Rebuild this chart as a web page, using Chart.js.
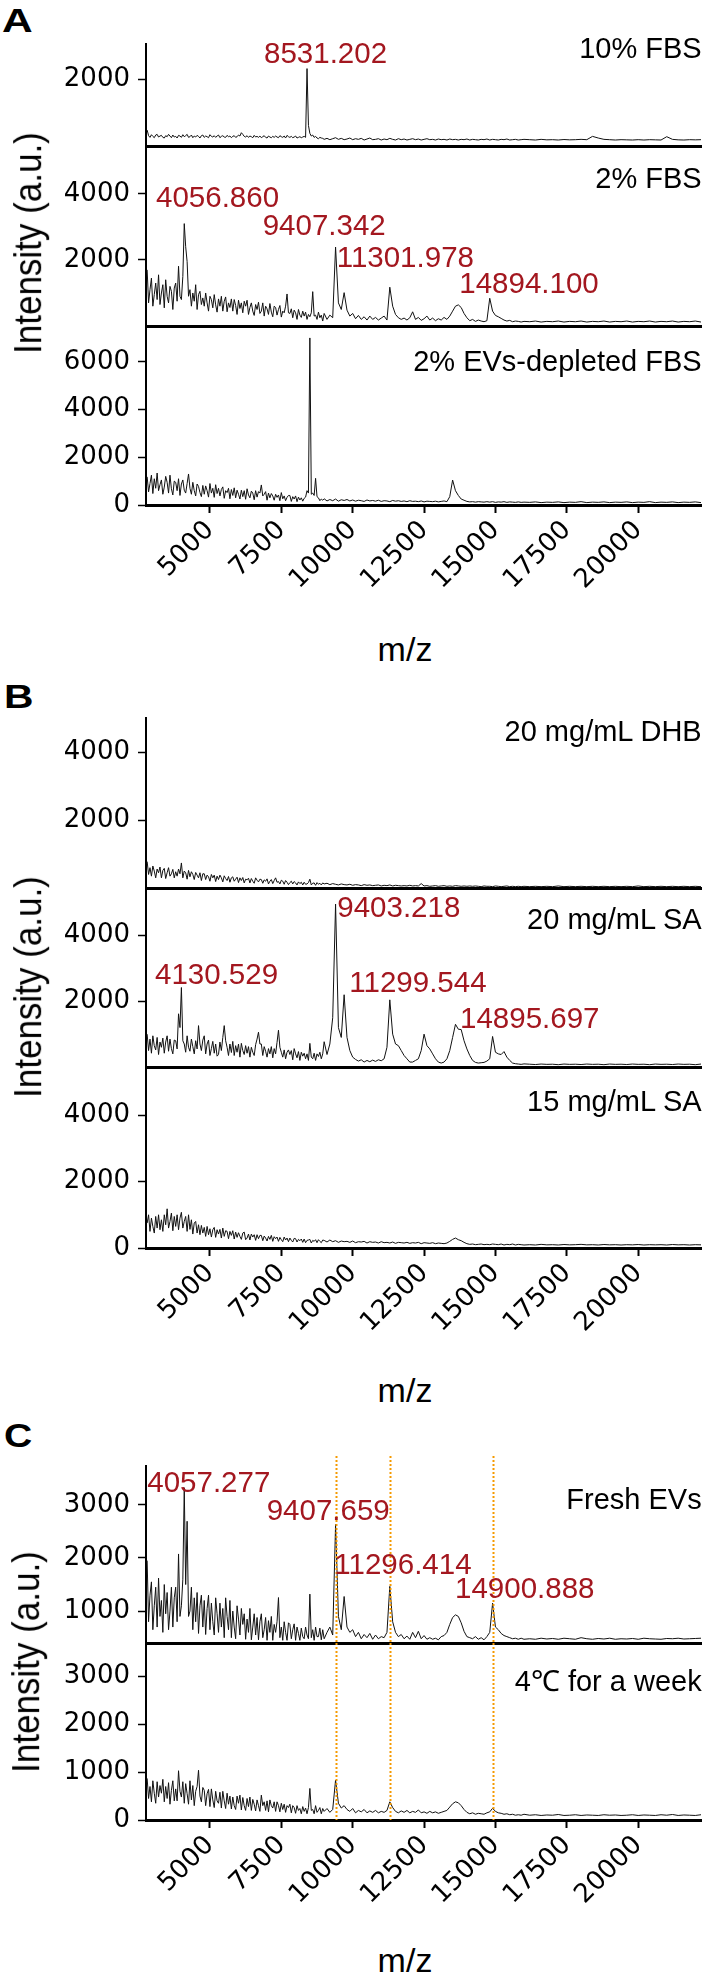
<!DOCTYPE html>
<html><head><meta charset="utf-8">
<script src="https://cdn.jsdelivr.net/npm/chart.js@4.4.0/dist/chart.umd.min.js"></script>
<style>
html,body{margin:0;padding:0;background:#fff}
body{width:706px;height:1983px;position:relative;overflow:hidden;font-family:'Liberation Sans',Arial,sans-serif}
.t{position:absolute;white-space:nowrap;line-height:1;font-family:'Liberation Sans',Arial,sans-serif}
</style></head><body>
<script>
// ---------- DATA ----------
const MZ = [2800,2850,2900,2950,3000,3050,3100,3150,3200,3250,
3300,3350,3400,3450,3500,3550,3600,3650,3700,3750,
3800,3850,3900,3950,4000,4050,4100,4150,4200,4250,
4300,4350,4400,4450,4500,4550,4600,4650,4700,4750,
4800,4850,4900,4950,5000,5050,5100,5150,5200,5250,
5300,5350,5400,5450,5500,5550,5600,5650,5700,5750,
5800,5850,5900,5950,6000,6050,6100,6150,6200,6250,
6300,6350,6400,6450,6500,6550,6600,6650,6700,6750,
6800,6850,6900,6950,7000,7050,7100,7150,7200,7250,
7300,7350,7400,7450,7500,7550,7600,7650,7700,7750,
7800,7850,7900,7950,8000,8050,8100,8150,8200,8250,
8300,8350,8400,8450,8500,8550,8600,8650,8700,8750,
8800,8850,8900,8950,9000,
9100,9200,9300,9400,9500,9600,9700,
9800,9900,10000,10100,10200,10300,10400,10500,10600,10700,
10800,10900,11000,11100,11200,11300,11400,11500,11600,11700,
11800,11900,12000,12100,12200,12300,12400,12500,12600,12700,
12800,12900,13000,13100,13200,13300,13400,13500,13600,13700,
13800,13900,14000,14100,14200,14300,14400,14500,14600,14700,
14800,14900,15000,15100,15200,15300,15400,15500,15600,15700,
15800,15900,16000,
16200,16400,16600,16800,17000,17200,17400,17600,17800,18000,
18200,18400,18600,18800,19000,19200,19400,19600,19800,20000,
20200,20400,20600,20800,21000,21200,21400,21600,21800,22000,22200];

// Panel A – 10% FBS
const A_10FBS = [480,310,260,340,290,250,330,350,270,300,
320,260,240,310,280,350,300,250,330,270,
290,240,320,300,260,340,280,310,350,260,
280,330,250,300,270,320,290,240,310,330,
260,300,280,250,340,290,270,310,260,300,
330,250,290,310,270,260,320,280,300,250,
290,310,260,280,330,300,400,350,290,270,
310,260,300,280,250,320,270,290,260,300,
250,280,310,260,240,300,270,250,290,260,
300,270,250,310,280,260,300,240,320,280,
260,290,250,270,300,240,260,280,250,270,
290,260,2330,620,380,300,330,260,290,240,
220,260,240,230,200,
230,190,220,250,200,230,190,
210,240,190,220,200,230,180,210,240,190,
200,220,180,210,190,230,200,180,220,190,
210,180,200,220,190,210,180,200,220,190,
200,180,210,190,200,180,210,190,200,180,
200,190,210,180,200,190,180,200,190,210,
180,200,190,180,200,190,210,180,190,200,
180,190,200,
190,180,200,185,190,180,195,185,190,200,190,290,240,200,190,180,190,185,180,190,180,190,185,180,280,200,185,180,190,185,190];
// Panel A – 2% FBS
const A_2FBS = [1700,700,1100,1450,600,950,1300,800,1550,650,
1000,1250,550,1400,900,700,1200,1050,500,1150,
1300,750,1810,900,800,1500,3100,2400,1950,900,
1100,600,1000,750,1250,500,950,1050,650,850,
600,1000,700,450,900,800,550,950,640,420,
820,600,900,450,750,880,430,700,560,820,
450,800,620,350,780,530,700,400,750,600,
780,350,560,700,450,320,650,500,720,380,
450,700,300,600,520,350,680,420,280,600,
560,330,500,620,270,450,400,600,970,400,
380,520,250,480,400,200,500,330,260,450,
300,420,200,350,280,400,1040,300,330,200,
420,250,330,150,380,
200,330,250,2390,700,500,1010,
480,300,380,220,320,200,280,180,300,200,
260,180,240,300,180,1175,600,350,250,200,
240,180,250,430,200,260,170,220,300,180,
240,160,220,180,260,200,300,450,600,640,
560,380,250,160,200,140,180,150,130,160,
840,450,320,280,230,180,150,170,130,150,
140,120,140,
130,150,120,140,130,150,120,140,130,150,120,140,130,150,120,140,130,150,120,140,130,150,120,140,130,150,120,140,130,150,120];
// Panel A – 2% EVs-depleted FBS
const A_DEPL = [1180,550,900,1250,480,1100,700,1340,600,850,
1050,450,750,1200,950,500,1250,680,420,1000,
950,600,1100,400,880,1050,620,500,900,1300,
700,450,950,600,380,880,780,520,350,820,
450,800,600,330,900,500,700,320,850,480,
700,380,650,760,280,600,520,700,260,650,
400,720,300,620,450,250,620,350,600,240,
680,420,300,580,500,220,600,330,560,500,
840,380,450,560,200,500,300,480,380,200,
450,320,420,180,520,260,380,180,320,400,
400,150,350,250,380,140,330,210,300,160,
280,330,600,500,7000,450,500,400,1117,350,
300,180,250,200,260,
170,230,180,250,160,220,190,
230,170,210,160,200,180,150,210,170,190,
160,200,150,180,170,140,190,160,180,150,
170,140,180,150,160,140,170,130,160,150,
140,160,130,150,170,140,350,1046,600,400,
250,200,150,130,140,120,140,130,120,140,
120,140,110,130,120,140,110,130,120,110,
130,110,120,
110,130,100,120,110,130,100,120,110,140,100,120,110,130,100,120,110,130,100,120,110,140,100,120,110,130,100,120,110,130,100];
// Panel B – 20 mg/mL DHB
const B_DHB = [780,400,600,350,650,500,300,560,450,620,
300,520,580,280,450,600,350,420,550,300,
480,350,560,420,740,300,500,450,260,520,
330,480,400,250,460,380,300,450,220,420,
420,250,380,330,200,400,300,380,190,350,
250,380,300,180,360,280,220,340,170,300,
330,200,260,320,160,300,220,310,150,260,
240,290,150,280,200,140,300,230,180,260,
250,140,240,200,270,120,200,250,130,220,
300,170,190,120,230,200,110,220,170,100,
160,200,120,190,150,90,180,130,170,90,
170,110,120,160,260,90,140,150,80,160,
110,140,90,150,120,
140,100,130,110,90,120,100,
90,110,80,100,90,70,100,80,90,70,
80,90,60,80,70,90,60,80,70,60,
70,60,80,60,70,60,130,60,70,50,
60,70,50,60,70,50,60,50,70,60,
50,60,50,60,50,60,50,40,60,50,
50,40,60,50,40,50,60,40,50,40,
50,40,50,
40,50,40,50,40,60,40,50,40,50,40,50,40,50,40,50,40,50,40,60,40,50,40,50,40,50,40,50,40,50,40];
// Panel B – 20 mg/mL SA
const B_SA20 = [1000,500,850,420,950,650,520,900,380,760,
600,880,420,760,950,480,850,560,400,820,
800,550,1620,1200,2420,800,700,450,950,600,
480,850,620,400,800,550,1260,700,500,820,
950,400,700,820,350,560,780,420,700,330,
380,760,500,900,1260,800,600,350,700,440,
780,350,650,450,700,300,720,500,380,650,
420,620,300,600,450,350,680,850,1060,700,
700,350,620,480,300,560,400,620,280,560,
400,750,1120,600,450,300,520,250,450,520,
380,500,220,560,400,280,470,200,450,330,
420,250,400,200,720,300,250,420,200,400,
320,450,250,400,770,
380,700,1500,4960,1200,900,2200,
900,500,300,230,180,220,150,200,160,210,
170,220,190,250,600,2045,1000,700,650,500,
350,250,150,150,200,250,500,1000,650,550,
400,250,150,120,150,250,500,900,1300,1150,
1140,800,550,350,200,140,120,130,140,180,
250,930,450,400,380,470,300,200,120,100,
90,80,95,
85,75,90,80,85,70,90,80,85,75,90,80,85,70,90,80,85,75,90,80,85,70,90,80,85,75,90,80,85,70,90];
// Panel B – 15 mg/mL SA
const B_SA15 = [750,1000,500,900,650,450,950,600,1000,550,
850,500,1000,700,1180,600,800,1050,520,950,
650,1000,550,900,1075,600,800,950,500,1000,
560,850,420,750,800,450,700,400,680,450,
620,350,650,400,580,330,550,620,320,550,
420,560,300,600,350,520,500,280,500,380,
520,270,480,320,460,350,260,450,480,250,
300,420,240,420,330,400,230,400,280,380,
380,220,360,300,210,350,260,380,200,340,
280,330,200,320,250,190,330,240,300,190,
300,230,180,290,280,180,260,220,270,170,
270,160,230,240,260,150,230,200,250,160,
250,200,160,240,230,
180,240,190,220,170,210,190,
200,170,210,160,190,180,200,150,190,170,
180,150,190,160,170,150,180,140,170,160,
150,170,140,160,150,170,130,160,150,140,
160,130,150,140,130,150,200,260,300,250,
220,170,130,110,120,100,110,120,100,110,
100,120,110,100,120,90,110,100,120,90,
110,100,90,
100,90,110,95,100,90,105,95,100,110,95,100,90,105,95,100,90,100,95,105,90,100,95,100,90,105,95,100,90,100,95];
// Panel C – Fresh EVs
const C_FRESH = [1950,800,1300,1550,650,1100,1450,700,1620,900,
1200,600,1500,950,1350,650,1000,1450,700,1250,
1450,800,2075,900,1100,1600,3322,1500,2690,900,
1000,1450,650,1250,800,1350,580,1100,1300,700,
1200,560,1050,1300,650,1150,800,550,1250,950,
600,1150,700,1050,500,1250,900,650,1200,500,
1000,700,480,1100,850,550,1050,750,950,470,
850,600,1050,460,700,950,550,880,460,800,
950,500,650,880,450,820,600,900,450,750,
600,800,1255,500,700,450,800,600,450,780,
750,480,650,760,450,700,580,450,680,520,
480,700,550,480,1320,500,650,450,700,520,
520,680,460,650,480,
600,700,550,2629,900,650,1275,
700,600,650,520,600,480,560,500,580,470,
550,480,520,500,600,1465,800,600,520,560,
480,530,470,600,500,620,480,540,470,500,
470,490,460,520,540,600,750,880,930,900,
780,620,520,500,480,520,470,500,460,520,
600,1150,700,650,580,540,520,500,480,490,
470,490,470,
480,470,490,475,485,470,490,480,470,500,480,470,485,475,490,470,480,475,485,470,490,480,475,470,485,480,490,475,480,485,490];
// Panel C – 4°C for a week
const C_WEEK = [870,450,700,380,820,560,350,800,480,720,
560,850,380,700,450,780,330,620,820,400,
650,400,1030,600,480,800,350,760,550,330,
820,420,720,300,600,700,1040,500,380,680,
620,300,550,640,280,650,420,260,600,400,
350,580,250,600,400,240,560,330,500,230,
480,300,220,500,350,520,210,470,300,200,
450,280,480,200,430,330,190,420,300,180,
520,300,380,200,400,170,420,300,250,380,
180,380,300,170,350,220,330,160,300,260,
330,150,300,260,140,300,200,240,130,280,
180,250,130,260,660,200,220,130,300,160,
200,260,130,240,180,
240,160,220,835,350,250,300,
220,180,240,150,200,170,220,150,190,160,
200,150,180,160,200,380,260,180,150,190,
160,200,150,180,160,210,150,170,140,180,
150,170,140,160,180,200,270,340,380,360,
300,220,160,130,150,120,140,130,120,150,
170,245,180,150,140,120,130,110,120,100,
110,100,120,
100,110,95,105,100,115,95,100,110,95,105,100,95,110,100,105,95,100,110,95,105,100,95,110,100,115,95,105,100,95,110];

// tick values
const X_TICKS = [5000,7500,10000,12500,15000,17500,20000];
const YT_A1 = [2000], YT_A2 = [2000,4000], YT_A3 = [0,2000,4000,6000];
const YT_B1 = [2000,4000], YT_B2 = [2000,4000], YT_B3 = [0,2000,4000];
const YT_C1 = [1000,2000,3000], YT_C2 = [0,1000,2000,3000];
// reference m/z lines in panel C
const C_LINES = [9407.659, 11296.414, 14900.888];

// ---------- LAYOUT ----------
const XMIN = 2760, XMAX = 22200, AXH = 100;
const PANELS = [
 {data:A_10FBS, yt:YT_A1, min:0, max:3100, top:43, bottom:146},
 {data:A_2FBS,  yt:YT_A2, min:0, max:5450, top:146, bottom:326},
 {data:A_DEPL,  yt:YT_A3, min:0, max:7500, top:326, bottom:505, xaxis:true},
 {data:B_DHB,   yt:YT_B1, min:0, max:5050, top:717, bottom:888},
 {data:B_SA20,  yt:YT_B2, min:0, max:5450, top:888, bottom:1067},
 {data:B_SA15,  yt:YT_B3, min:0, max:5450, top:1067, bottom:1248, xaxis:true},
 {data:C_FRESH, yt:YT_C1, min:400, max:3730, top:1466, bottom:1643, lines:true, padTop:10},
 {data:C_WEEK,  yt:YT_C2, min:0, max:3700, top:1643, bottom:1820, xaxis:true, lines:true}
];
PANELS.forEach(p=>{ if (p.data.length !== MZ.length) console.error('length mismatch', p.data.length, MZ.length); });

const vlinePlugin = {
  id:'vlines',
  afterDatasetsDraw(chart, args, opts){
    const {ctx, chartArea, scales:{x}} = chart;
    ctx.save();
    ctx.strokeStyle = '#f59a00';
    ctx.lineWidth = 2;
    ctx.setLineDash([2,2]);
    C_LINES.forEach(v=>{
      const px = Math.round(x.getPixelForValue(v)) + 0.5;
      ctx.beginPath();
      ctx.moveTo(px, chartArea.top - (opts.extraTop||0));
      ctx.lineTo(px, chartArea.bottom);
      ctx.stroke();
    });
    ctx.restore();
  }
};

PANELS.forEach(p=>{
  const padTop = p.padTop||0, padBot = p.xaxis?0:3, axisH = p.xaxis?AXH:0;
  const div = document.createElement('div');
  div.style.cssText = `position:absolute;left:0;top:${p.top-padTop}px;width:706px;height:${p.bottom-p.top+padTop+padBot+axisH}px`;
  const cv = document.createElement('canvas');
  div.appendChild(cv);
  document.body.appendChild(div);
  new Chart(cv, {
    type:'line',
    data:{datasets:[{
      data:p.data.map((v,i)=>({x:MZ[i], y:v})),
      borderColor:'#111', borderWidth:1, pointRadius:0, tension:0, fill:false
    }]},
    options:{
      animation:false, responsive:true, maintainAspectRatio:false, events:[],
      layout:{padding:{top:padTop, bottom:padBot, left:0, right:5}},
      plugins:{legend:{display:false}, tooltip:{enabled:false}, vlines:{extraTop:padTop}},
      scales:{
        x:{type:'linear', min:XMIN, max:XMAX, position:'bottom',
          grid:{display:!!p.xaxis, drawOnChartArea:false, drawTicks:true, tickLength:8, tickWidth:2, tickColor:'#000'},
          border:{display:true, color:'#000', width:3},
          ticks:{display:!!p.xaxis, autoSkip:false, minRotation:45, maxRotation:45, padding:2, color:'#000',
                 font:{family:'DejaVu Sans', size:26}, callback:v=>String(v)},
          afterBuildTicks:s=>{s.ticks = X_TICKS.map(v=>({value:v}));},
          afterFit:s=>{s.height = axisH; s.paddingLeft = 0; s.paddingRight = 0;}
        },
        y:{type:'linear', min:p.min, max:p.max, position:'left',
          grid:{display:true, drawOnChartArea:false, drawTicks:true, tickLength:8, tickWidth:1.5, tickColor:'#000'},
          border:{display:true, color:'#000', width:2},
          ticks:{color:'#000', padding:8, font:{family:'DejaVu Sans', size:26}, callback:v=>String(v)},
          afterBuildTicks:s=>{s.ticks = p.yt.map(v=>({value:v}));},
          afterFit:s=>{s.width = 146; s.paddingTop = 0; s.paddingBottom = 0;}
        }
      }
    },
    plugins: p.lines ? [vlinePlugin] : []
  });
});

// ---------- TEXT ----------
const RED = '#a3171f';
function txt(s, x, base, size, o={}){
  const d = document.createElement('div');
  d.className = 't';
  d.textContent = s;
  d.style.fontSize = size+'px';
  d.style.top = (base - 0.8465*size)+'px';
  if (o.right) d.style.right = (706 - x)+'px'; else d.style.left = x+'px';
  d.style.color = o.color || '#000';
  if (o.bold) d.style.fontWeight = 'bold';
  if (o.sx){ d.style.transform = `scaleX(${o.sx})`; d.style.transformOrigin = 'left top'; }
  document.body.appendChild(d);
  return d;
}
function rtxt(s, cx, cy, size, rot, stretch){
  const d = document.createElement('div');
  d.className = 't';
  d.textContent = s;
  d.style.fontSize = size+'px';
  d.style.left = cx+'px'; d.style.top = cy+'px';
  d.style.transform = `translate(-50%,-50%) rotate(${rot}deg)` + (stretch ? ` scaleY(${stretch})` : '');
  document.body.appendChild(d);
}
// panel letters
txt('A', 2, 31.7, 34, {bold:true, sx:1.25});
txt('B', 4, 708, 34, {bold:true, sx:1.2});
txt('C', 4, 1447, 34, {bold:true, sx:1.15});
// condition labels
const CF = 29;
txt('10% FBS', 701.7, 58.3, CF, {right:true});
txt('2% FBS', 701.7, 189, CF, {right:true});
txt('2% EVs-depleted FBS', 701.7, 371.7, CF, {right:true});
txt('20 mg/mL DHB', 701.7, 741.5, CF, {right:true});
txt('20 mg/mL SA', 701.7, 930, CF, {right:true});
txt('15 mg/mL SA', 701.7, 1112, CF, {right:true});
txt('Fresh EVs', 701.7, 1510, CF, {right:true});
txt('4\u2103 for a week', 701.7, 1691.7, CF, {right:true});
// peak labels
const PF = 29.5;
txt('8531.202', 264, 62.7, PF, {color:RED});
txt('4056.860', 156, 206.7, PF, {color:RED});
txt('9407.342', 262.7, 235, PF, {color:RED});
txt('11301.978', 336.7, 266.7, PF, {color:RED});
txt('14894.100', 459.3, 292.7, PF, {color:RED});
txt('9403.218', 337.3, 917.3, PF, {color:RED});
txt('4130.529', 155, 984, PF, {color:RED});
txt('11299.544', 349.3, 991.7, PF, {color:RED});
txt('14895.697', 460, 1028.3, PF, {color:RED});
txt('4057.277', 147.3, 1492.3, PF, {color:RED});
txt('9407.659', 266.7, 1520, PF, {color:RED});
txt('11296.414', 334.3, 1574, PF, {color:RED});
txt('14900.888', 455, 1597.7, PF, {color:RED});
// axis titles
rtxt('Intensity (a.u.)', 27, 243, 35, -90, 1.12);
rtxt('Intensity (a.u.)', 27, 987, 35, -90, 1.12);
rtxt('Intensity (a.u.)', 25, 1662, 35, -90, 1.12);
rtxt('m/z', 405, 649, 34, 0);
rtxt('m/z', 405, 1390, 34, 0);
rtxt('m/z', 405, 1960, 34, 0);
</script>
</body></html>
